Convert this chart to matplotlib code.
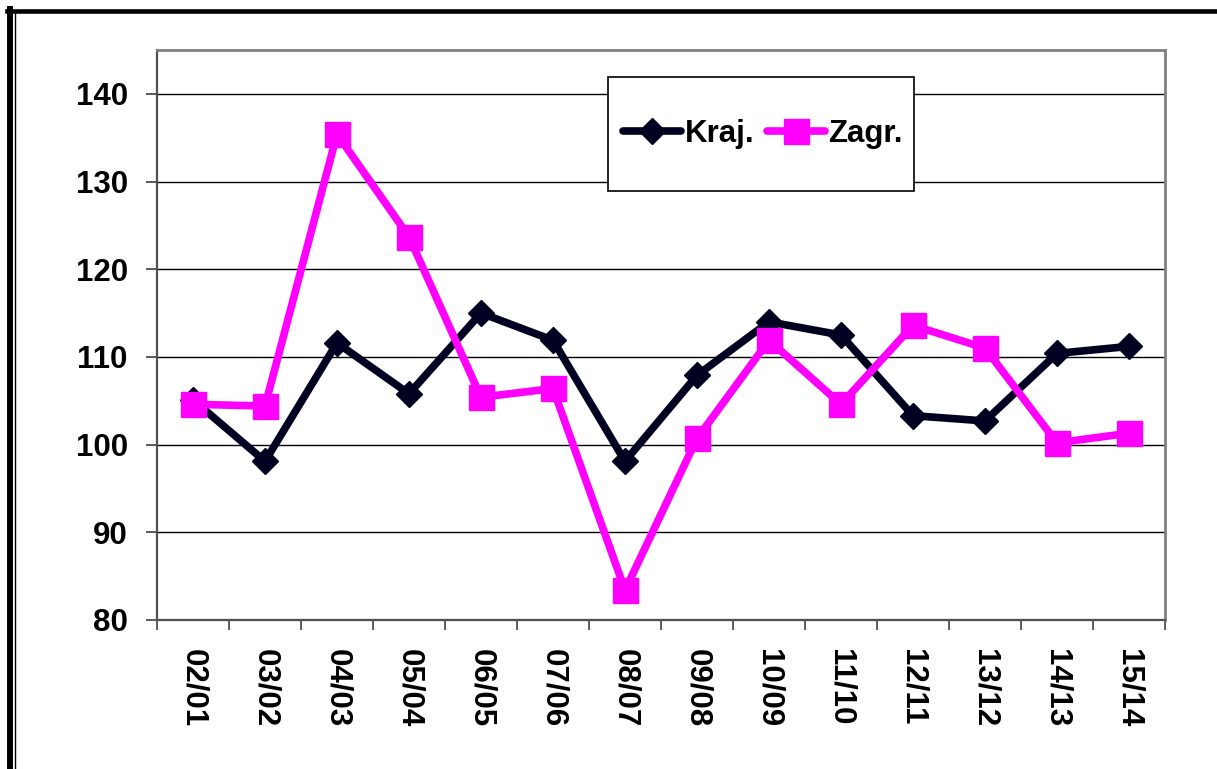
import matplotlib
matplotlib.use("Agg")
import matplotlib.pyplot as plt
from matplotlib.lines import Line2D
from matplotlib.patches import Rectangle

plt.rcParams['font.family'] = ['Liberation Sans', 'DejaVu Sans']

categories = ["02/01", "03/02", "04/03", "05/04", "06/05", "07/06", "08/07",
              "09/08", "10/09", "11/10", "12/11", "13/12", "14/13", "15/14"]
kraj = [105.1, 98.1, 111.6, 105.8, 115.0, 111.9, 98.1,
        107.9, 114.0, 112.5, 103.3, 102.7, 110.4, 111.2]
zagr = [104.6, 104.4, 135.4, 123.7, 105.4, 106.4, 83.4,
        100.7, 111.9, 104.6, 113.6, 111.0, 100.2, 101.3]
y_ticks = [80, 90, 100, 110, 120, 130, 140]

W, H = 1217, 769
fig = plt.figure(figsize=(W / 100, H / 100), dpi=100)
fig.patch.set_facecolor("white")

def fx(px):
    return px / W

def fy(py):
    return 1 - py / H

# plot area in pixel terms
left, top, right, bottom = 157, 50, 1165, 620
ax = fig.add_axes([fx(left), fy(bottom), fx(right - left), (bottom - top) / H])

FS = 22.5
x = list(range(len(categories)))
ax.plot(x, kraj, color="#000020", lw=5.5, marker="D", ms=13, mew=1,
        mec="#000020", mfc="#000020", zorder=3, solid_joinstyle="miter")
ax.plot(x, zagr, color="#FF00FF", lw=5.5, marker="s", ms=18, mew=1,
        mec="#FF00FF", mfc="#FF00FF", zorder=3, solid_joinstyle="miter")

ax.set_xlim(-0.5, len(categories) - 0.5)
ax.set_ylim(80, 145)
ax.set_yticks(y_ticks)
ax.set_yticklabels([str(v) for v in y_ticks], fontsize=FS, fontweight="bold")
ax.yaxis.grid(True, color="#000000", lw=1.0)
ax.set_axisbelow(True)

ax.set_xticks(x)
ax.set_xticklabels(categories, rotation=270, fontsize=FS, fontweight="bold",
                   va="top", ha="center")
ax.set_xticks([i - 0.5 for i in range(len(categories) + 1)], minor=True)
ax.tick_params(axis="x", which="major", length=0, pad=21)
ax.tick_params(axis="x", which="minor", length=7, width=1.2, color="#404040",
               direction="out")
ax.tick_params(axis="y", length=8, width=1.2, color="#404040", pad=13)

for side in ("top", "right"):
    ax.spines[side].set_color("#808080")
    ax.spines[side].set_linewidth(2)
for side in ("left", "bottom"):
    ax.spines[side].set_color("#505050")
    ax.spines[side].set_linewidth(1.6)

# legend box
lx0, ly0, lx1, ly1 = 608, 77, 914, 191
box = Rectangle((fx(lx0), fy(ly1)), fx(lx1 - lx0), (ly1 - ly0) / H,
                transform=fig.transFigure, facecolor="white",
                edgecolor="black", lw=1.2, zorder=4)
fig.patches.append(box)
handles = [
    Line2D([], [], color="#000020", lw=5.5, marker="D", ms=13, mew=1,
           solid_capstyle="round"),
    Line2D([], [], color="#FF00FF", lw=5.5, marker="s", ms=18, mew=1,
           solid_capstyle="round"),
]
leg = fig.legend(handles, ["Kraj.", "Zagr."], loc="center",
                 bbox_to_anchor=(fx((lx0 + lx1) / 2 + 2), fy(134)),
                 ncol=2, frameon=False, handlelength=1.85, handletextpad=0.12,
                 columnspacing=0.4, prop={"size": FS, "weight": "bold"})
leg.set_zorder(5)

# outer frame lines
fig.add_artist(Line2D([fx(7), fx(W)], [fy(11), fy(11)], color="black", lw=3.3,
                      transform=fig.transFigure))
fig.add_artist(Line2D([fx(10), fx(10)], [fy(9), fy(H)], color="black", lw=4.3,
                      transform=fig.transFigure))
fig.add_artist(Line2D([fx(14.7), fx(14.7)], [fy(13), fy(H)], color="black",
                      lw=1.0, transform=fig.transFigure))

fig.savefig("out.png", dpi=100)
